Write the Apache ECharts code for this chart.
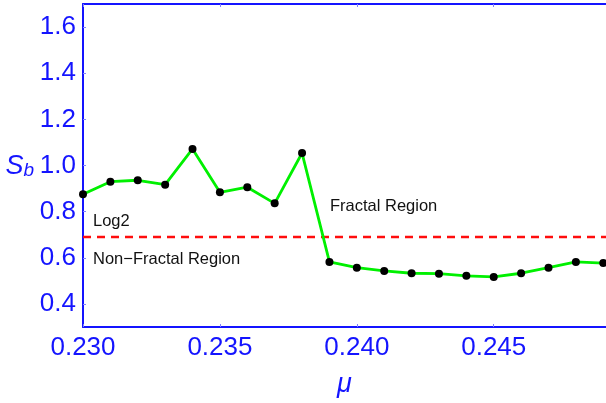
<!DOCTYPE html>
<html>
<head>
<meta charset="utf-8">
<script src="https://cdn.jsdelivr.net/npm/echarts@6/dist/echarts.min.js"></script>
<style>
html,body{margin:0;padding:0;background:#fff;}
#c{width:606px;height:403px;}
</style>
</head>
<body>
<div id="c"></div>
<script>
// Data
const mu = [0.230, 0.231, 0.232, 0.233, 0.234, 0.235, 0.236, 0.237, 0.238, 0.239,
            0.240, 0.241, 0.242, 0.243, 0.244, 0.245, 0.246, 0.247, 0.248, 0.249];
const Sb = [0.875, 0.930, 0.936, 0.917, 1.072, 0.884, 0.906, 0.836, 1.054, 0.582,
            0.557, 0.543, 0.533, 0.531, 0.522, 0.517, 0.533, 0.557, 0.582, 0.577];
const log2Value = [0.693];
const annotations = ["Log2", "Non\u2212Fractal Region", "Fractal Region"];

const BLUE = '#1414ff';
const chart = echarts.init(document.getElementById('c'), null, {renderer: 'canvas'});
const axisBase = {
  axisLine: {show: true, onZero: false, lineStyle: {color: BLUE, width: 2}},
  axisTick: {show: true, inside: true, length: 3, lineStyle: {color: '#8080ff', width: 1}},
  splitLine: {show: false}
};
chart.setOption({
  animation: false,
  backgroundColor: '#fff',
  grid: {left: 83, top: 4, right: 0, bottom: 76},
  xAxis: [
    Object.assign({}, axisBase, {
      type: 'value', min: 0.230, max: 0.2491, interval: 0.005,
      name: '\u03bc', nameLocation: 'middle', nameGap: 44,
      nameTextStyle: {color: BLUE, fontSize: 27, fontStyle: 'italic', fontFamily: 'Liberation Sans'},
      axisLabel: {color: BLUE, fontSize: 26, fontFamily: 'Liberation Sans', margin: 8,
        showMaxLabel: false, formatter: v => v.toFixed(3)}
    }),
    Object.assign({}, axisBase, {
      type: 'value', position: 'top', min: 0.230, max: 0.2491, interval: 0.005,
      axisLabel: {show: false}
    })
  ],
  yAxis: Object.assign({}, axisBase, {
    type: 'value', min: 0.3, max: 1.7, splitNumber: 7,
    name: '{s|S}{b|b}', nameLocation: 'middle', nameRotate: 0, nameGap: 49,
    nameTextStyle: {rich: {
      s: {color: BLUE, fontSize: 27, fontStyle: 'italic', fontFamily: 'Liberation Sans', verticalAlign: 'bottom'},
      b: {color: BLUE, fontSize: 19, fontStyle: 'italic', fontFamily: 'Liberation Sans', padding: [10, 0, 0, 0], verticalAlign: 'bottom'}
    }},
    axisLabel: {color: BLUE, fontSize: 26, fontFamily: 'Liberation Sans', margin: 7,
      showMinLabel: false, showMaxLabel: false, formatter: v => v.toFixed(1)}
  }),
  series: [{
    type: 'line',
    data: mu.map((x, i) => [x, Sb[i]]),
    symbol: 'circle', symbolSize: 8,
    itemStyle: {color: '#000'},
    lineStyle: {color: '#00f000', width: 2.8},
    z: 3,
    markLine: {
      silent: true, symbol: 'none', label: {show: false},
      lineStyle: {color: '#ff0d0d', width: 2.4, type: [8, 6]},
      data: [{yAxis: log2Value[0]}],
      z: 2
    }
  }],
  graphic: [
    {type: 'text', left: 93, top: 213, style: {text: annotations[0], fill: '#111', font: '16.5px "Liberation Sans"'}},
    {type: 'text', left: 93, top: 251, style: {text: annotations[1], fill: '#111', font: '16.5px "Liberation Sans"'}},
    {type: 'text', left: 330, top: 198, style: {text: annotations[2], fill: '#111', font: '16.5px "Liberation Sans"'}}
  ]
});
</script>
</body>
</html>
